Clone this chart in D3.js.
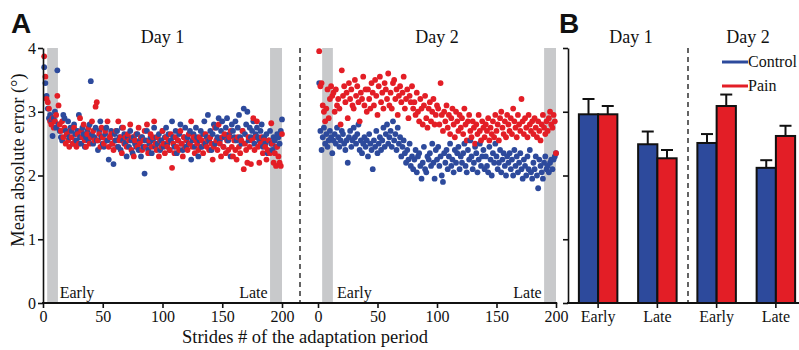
<!DOCTYPE html>
<html>
<head>
<meta charset="utf-8">
<script src="https://cdn.jsdelivr.net/npm/d3@7"></script>
<style>
  body { margin: 0; background: #fff; }
  text { font-family: "Liberation Serif", "Times New Roman", serif; fill: #111; }
  .panel-letter { font-family: "Liberation Sans", Arial, sans-serif; font-weight: bold; font-size: 28px; }
  .axis text { font-size: 16px; font-family: "Liberation Serif", serif; }
  .axis line, .axis path { stroke: #111; stroke-width: 1.6; }
</style>
</head>
<body>
<div id="chart"></div>
<script>
// ---- data ----
// Panel A: mean absolute error per stride (strides 1..200)
let day1Control = [
  3.70,3.45,3.25,3.05,2.90,2.95,2.85,2.62,2.90,3.00,2.75,3.65,2.80,2.70,2.60,2.55,2.95,2.90,2.70,2.65,
  2.85,2.60,2.75,2.70,2.50,2.80,2.65,2.55,2.70,2.95,2.60,2.50,2.75,2.65,2.45,2.60,2.70,2.55,2.80,3.48,
  2.65,2.50,2.60,2.75,2.55,2.40,2.70,2.85,2.60,2.50,2.45,2.65,2.75,2.55,2.25,2.60,2.70,2.50,2.18,2.65,
  2.55,2.70,2.45,2.60,2.40,2.75,2.55,2.65,2.50,2.30,2.60,2.45,2.70,2.55,2.35,2.60,2.50,2.45,2.65,2.40,
  2.55,2.30,2.60,2.45,2.03,2.55,2.70,2.40,2.50,2.60,2.35,2.55,2.75,2.45,2.60,2.50,2.65,2.40,2.55,2.70,
  2.45,2.60,2.75,2.50,2.65,2.40,2.55,2.85,2.60,2.45,2.70,2.35,2.55,2.65,2.80,2.50,2.40,2.60,2.75,2.45,
  2.60,2.50,2.70,2.25,2.55,2.65,2.45,2.75,2.60,2.30,2.55,2.70,2.45,2.65,2.85,2.50,2.60,2.95,2.55,2.70,
  2.40,2.65,2.80,2.50,2.75,2.60,2.90,2.55,2.70,2.85,2.45,2.60,2.75,2.90,2.55,2.65,2.30,2.80,2.70,2.60,
  2.85,2.55,2.75,2.95,2.60,2.50,2.70,3.05,2.65,2.80,3.00,2.55,2.75,2.60,2.70,2.85,2.50,2.65,2.75,2.60,
  2.55,2.70,2.80,2.45,2.60,2.50,2.65,2.35,2.55,2.70,2.50,2.40,2.60,2.55,2.45,2.65,2.60,2.50,2.70,2.88
];
let day1Pain = [
  3.87,3.55,3.20,3.15,3.05,2.85,2.80,2.90,2.75,2.85,2.95,3.25,3.10,2.80,2.70,2.85,2.60,2.75,2.50,2.65,
  2.55,2.45,2.70,2.60,2.50,2.75,2.55,2.45,2.65,2.50,2.90,2.70,2.60,2.80,2.55,2.45,2.65,2.75,2.50,2.60,
  2.85,2.70,2.55,3.08,3.15,2.55,2.65,2.45,2.75,2.60,2.50,2.70,2.55,2.85,2.45,2.60,2.65,2.50,2.40,2.55,
  2.70,2.45,2.85,2.55,2.60,2.35,2.75,2.50,2.60,2.45,2.65,2.55,2.80,2.40,2.60,2.30,2.55,2.65,2.45,2.75,
  2.50,2.60,2.40,2.55,2.70,2.45,2.80,2.35,2.55,2.65,2.45,2.60,2.85,2.50,2.40,2.60,2.30,2.55,2.45,2.70,
  2.50,2.35,2.60,2.45,2.55,2.40,2.65,2.12,2.50,2.35,2.60,2.45,2.55,2.40,2.70,2.50,2.30,2.60,2.45,2.55,
  2.40,2.65,2.50,2.85,2.45,2.60,2.35,2.55,2.50,2.40,2.60,2.45,2.55,2.35,2.50,2.65,2.45,2.55,2.40,2.60,
  2.50,2.25,2.45,2.75,2.55,2.40,2.80,2.50,2.30,2.60,2.45,2.65,2.35,2.55,2.40,2.60,2.70,2.45,2.30,2.55,
  2.40,2.25,2.60,2.45,2.35,2.55,2.70,2.10,2.50,2.40,2.20,2.60,2.45,2.18,2.55,2.90,2.40,2.60,2.85,2.45,
  2.20,2.50,2.60,2.35,2.55,2.45,2.25,2.40,2.55,2.35,2.82,2.50,2.20,2.35,2.15,2.45,2.30,2.20,2.15,2.65
];
let day2Control = [
  3.45,2.70,2.40,2.60,2.75,2.50,2.65,2.45,2.55,2.70,2.60,2.35,2.55,2.65,2.50,2.75,2.60,2.45,2.55,2.70,
  2.65,2.50,2.40,2.55,2.20,2.60,2.70,2.45,2.55,2.75,2.60,2.50,2.65,2.80,2.40,2.55,2.35,2.50,2.60,2.45,
  2.55,2.30,2.65,2.50,2.40,2.10,2.55,2.45,2.70,2.35,2.50,2.60,2.40,2.55,2.75,2.45,2.65,2.80,2.50,2.60,
  2.70,2.45,2.85,2.55,2.65,2.40,2.75,2.50,2.60,2.30,2.45,2.55,2.35,2.20,2.40,2.25,2.50,2.15,2.30,2.10,
  2.25,2.40,2.05,2.30,2.35,2.15,1.95,2.20,2.45,2.10,2.05,2.30,2.25,2.35,2.15,2.50,2.20,1.95,2.40,2.25,
  2.45,2.15,2.30,2.00,1.90,2.35,2.20,2.40,2.10,2.30,2.50,2.15,2.25,2.05,2.40,2.20,2.35,2.45,2.10,2.30,
  2.20,2.35,2.50,2.15,2.05,2.40,2.25,2.55,2.30,2.10,2.20,2.45,2.35,2.05,2.25,2.50,2.15,2.30,2.40,2.10,
  2.30,2.15,2.05,2.45,2.25,2.00,2.35,2.20,2.50,2.30,2.10,2.20,2.40,2.05,2.25,2.35,2.15,2.00,2.30,2.20,
  2.35,2.10,2.25,2.00,2.40,2.15,2.30,2.05,2.20,2.35,2.10,1.95,2.25,2.15,2.00,2.30,2.10,2.40,2.05,1.95,
  2.20,2.10,2.30,2.00,1.80,2.25,2.15,2.05,1.95,2.20,2.30,2.10,2.15,2.05,2.20,2.25,2.10,2.25,2.30,2.35
];
let day2Pain = [
  3.95,3.40,3.45,3.10,3.00,2.85,3.05,3.35,2.90,3.20,3.40,3.25,3.30,3.00,3.35,3.10,3.20,3.05,2.80,3.65,
  3.25,3.40,3.15,3.30,2.90,3.45,3.20,3.35,3.10,3.05,3.50,3.25,3.40,3.15,2.85,3.30,3.20,3.55,3.10,3.35,
  3.00,3.35,3.20,3.05,3.45,3.30,3.10,3.50,3.25,2.95,3.40,3.55,3.15,3.30,3.05,3.45,3.35,3.20,3.60,3.10,
  3.30,3.05,3.45,3.50,3.20,3.35,2.95,3.25,3.40,3.15,3.30,3.55,3.05,3.20,3.35,2.90,3.25,3.15,3.40,3.05,
  3.15,2.95,3.30,3.00,2.85,3.20,3.05,2.80,3.10,3.25,2.90,2.75,3.05,3.15,2.85,3.00,3.20,2.80,2.95,3.10,
  3.05,2.80,3.45,2.95,2.70,3.00,2.85,3.10,2.75,2.95,2.65,2.90,3.05,2.80,2.60,3.00,2.85,2.70,2.95,2.75,
  2.90,2.65,3.05,2.80,2.55,2.85,2.95,2.70,2.60,2.85,2.75,2.50,2.80,2.65,2.95,2.70,2.55,2.85,2.75,2.60,
  2.80,2.70,2.90,2.55,2.75,2.65,2.85,2.60,2.95,2.70,2.80,2.55,2.90,3.00,2.75,2.65,2.85,2.60,2.95,2.80,
  2.70,2.90,2.65,3.05,2.85,2.75,2.60,2.95,2.80,2.70,3.20,2.85,2.65,2.90,2.75,2.60,2.95,2.80,2.70,2.85,
  2.65,2.90,2.75,2.60,2.85,2.70,2.55,2.80,2.95,2.75,2.65,2.85,2.70,2.90,3.00,2.80,2.75,2.95,2.85,2.35
];

// Panel B: means and upper error bars
let barCategories = ["Day1 Early", "Day1 Late", "Day2 Early", "Day2 Late"];
let barTickLabels = ["Early", "Late", "Early", "Late"];
let groups = ["Control", "Pain"];
let controlMeans = [2.96, 2.49, 2.51, 2.12];
let controlErr = [0.24, 0.20, 0.14, 0.12];
let painMeans = [2.96, 2.27, 3.09, 2.62];
let painErr = [0.13, 0.13, 0.18, 0.16];

let xTicks = [0, 50, 100, 150, 200];
let yTicks = [0, 1, 2, 3, 4];
let earlyBand = [3.5, 12.5];
let lateBand = [190, 200];

// ---- setup ----
let width = 799, height = 350;
let blue = "#2d4a9c", red = "#e31e26", grey = "#c8c9cb";

let svg = d3.select("#chart").append("svg")
  .attr("width", width).attr("height", height);

let y = d3.scaleLinear().domain([0, 4]).range([303, 48]);
let xDay1 = d3.scaleLinear().domain([0, 200]).range([43, 282]);
let xDay2 = d3.scaleLinear().domain([0, 200]).range([318, 556]);

/// Panel A ///
let panelA = svg.append("g").attr("class", "panel-a");

[xDay1, xDay2].forEach(xs => {
  [earlyBand, lateBand].forEach(b => {
    panelA.append("rect")
      .attr("x", xs(b[0])).attr("width", xs(b[1]) - xs(b[0]))
      .attr("y", y(4)).attr("height", y(0) - y(4))
      .attr("fill", grey);
  });
});

// dots, interleaved control / pain
function drawDots(xs, control, pain) {
  let pts = [];
  control.forEach((v, i) => {
    pts.push({ s: i + 1, v: v, c: blue });
    pts.push({ s: i + 1, v: pain[i], c: red });
  });
  panelA.append("g").selectAll("circle")
    .data(pts)
    .join("circle")
    .attr("cx", d => xs(d.s))
    .attr("cy", d => y(d.v))
    .attr("r", 2.9)
    .attr("fill", d => d.c);
}
drawDots(xDay1, day1Control, day1Pain);
drawDots(xDay2, day2Control, day2Pain);

// y axis
panelA.append("g")
  .attr("class", "axis")
  .attr("transform", "translate(43,0)")
  .call(d3.axisLeft(y).tickValues(yTicks).tickFormat(d3.format("d"))
    .tickSize(5).tickPadding(2).tickSizeOuter(0))
  .select(".domain").attr("stroke-width", 2.2);

// x axes
[xDay1, xDay2].forEach(xs => {
  let g = panelA.append("g")
    .attr("class", "axis")
    .attr("transform", "translate(0,303)")
    .call(d3.axisBottom(xs).tickValues(xTicks).tickSize(5).tickPadding(3));
  g.select(".domain").remove();
});
panelA.append("line")
  .attr("x1", 42).attr("x2", xDay2(201))
  .attr("y1", 303).attr("y2", 303)
  .attr("stroke", "#111").attr("stroke-width", 2.2);

// divider
panelA.append("line")
  .attr("x1", 300).attr("x2", 300)
  .attr("y1", y(4)).attr("y2", y(0))
  .attr("stroke", "#111").attr("stroke-width", 1.3)
  .attr("stroke-dasharray", "5,4");

// labels
panelA.append("text").attr("x", xDay1(100)).attr("y", 43)
  .attr("text-anchor", "middle").attr("font-size", 18).text("Day 1");
panelA.append("text").attr("x", xDay2(100)).attr("y", 43)
  .attr("text-anchor", "middle").attr("font-size", 18).text("Day 2");
panelA.append("text").attr("x", xDay1(14)).attr("y", 298).attr("font-size", 16).text("Early");
panelA.append("text").attr("x", xDay1(188)).attr("y", 298).attr("text-anchor", "end").attr("font-size", 16).text("Late");
panelA.append("text").attr("x", xDay2(16)).attr("y", 298).attr("font-size", 16).text("Early");
panelA.append("text").attr("x", xDay2(188)).attr("y", 298).attr("text-anchor", "end").attr("font-size", 16).text("Late");

panelA.append("text")
  .attr("transform", "translate(24,160) rotate(-90)")
  .attr("text-anchor", "middle").attr("font-size", 18.5)
  .text("Mean absolute error (°)");
panelA.append("text").attr("x", 305).attr("y", 343)
  .attr("text-anchor", "middle").attr("font-size", 18.5)
  .text("Strides # of the adaptation period");

svg.append("text").attr("class", "panel-letter").attr("x", 11).attr("y", 33).text("A");

/// Panel B ///
let panelB = svg.append("g").attr("class", "panel-b");

let xB = d3.scaleBand().domain(barCategories).range([568.5, 805.5]).padding(0);
let xInner = d3.scaleBand().domain(groups).range([0, 38.5]).padding(0);
let innerOffset = xB.bandwidth() / 2 - 19.25;

let barData = [];
barCategories.forEach((c, i) => {
  barData.push({ cat: c, g: "Control", v: controlMeans[i], e: controlErr[i], col: blue });
  barData.push({ cat: c, g: "Pain", v: painMeans[i], e: painErr[i], col: red });
});

let barX = d => xB(d.cat) + innerOffset + xInner(d.g);

// error bars (behind bars)
let errG = panelB.append("g");
errG.selectAll("line.stem")
  .data(barData).join("line")
  .attr("class", "stem")
  .attr("x1", d => barX(d) + xInner.bandwidth() / 2)
  .attr("x2", d => barX(d) + xInner.bandwidth() / 2)
  .attr("y1", d => y(d.v)).attr("y2", d => y(d.v + d.e))
  .attr("stroke", "#111").attr("stroke-width", 2);
errG.selectAll("line.cap")
  .data(barData).join("line")
  .attr("class", "cap")
  .attr("x1", d => barX(d) + xInner.bandwidth() / 2 - 6)
  .attr("x2", d => barX(d) + xInner.bandwidth() / 2 + 6)
  .attr("y1", d => y(d.v + d.e)).attr("y2", d => y(d.v + d.e))
  .attr("stroke", "#111").attr("stroke-width", 2);

panelB.append("g").selectAll("rect")
  .data(barData).join("rect")
  .attr("x", d => barX(d))
  .attr("y", d => y(d.v))
  .attr("width", xInner.bandwidth())
  .attr("height", d => y(0) - y(d.v))
  .attr("fill", d => d.col)
  .attr("stroke", "#111").attr("stroke-width", 2);

// axes
panelB.append("g")
  .attr("class", "axis")
  .attr("transform", "translate(568,0)")
  .call(d3.axisLeft(y).tickValues(yTicks).tickSize(5).tickFormat("").tickSizeOuter(0))
  .select(".domain").attr("stroke-width", 2.2);

let bx = panelB.append("g")
  .attr("class", "axis")
  .attr("transform", "translate(0,303)")
  .call(d3.axisBottom(xB).tickSize(5).tickPadding(3).tickFormat((d, i) => barTickLabels[i]));
bx.select(".domain").remove();
panelB.append("line")
  .attr("x1", 567).attr("x2", 799)
  .attr("y1", 303).attr("y2", 303)
  .attr("stroke", "#111").attr("stroke-width", 2.2);

// divider
panelB.append("line")
  .attr("x1", 688).attr("x2", 688)
  .attr("y1", y(4)).attr("y2", y(0))
  .attr("stroke", "#111").attr("stroke-width", 1.3)
  .attr("stroke-dasharray", "5,4");

panelB.append("text").attr("x", 631).attr("y", 43)
  .attr("text-anchor", "middle").attr("font-size", 18).text("Day 1");
panelB.append("text").attr("x", 748).attr("y", 43)
  .attr("text-anchor", "middle").attr("font-size", 18).text("Day 2");

// legend
let legend = panelB.append("g");
groups.forEach((g, i) => {
  let ly = 62 + i * 24;
  legend.append("line")
    .attr("x1", 722).attr("x2", 748).attr("y1", ly).attr("y2", ly)
    .attr("stroke", i === 0 ? blue : red).attr("stroke-width", 3);
  legend.append("text").attr("x", 748).attr("y", ly + 5)
    .attr("font-size", 16).text(g);
});

svg.append("text").attr("class", "panel-letter").attr("x", 559).attr("y", 33).text("B");
</script>
</body>
</html>
